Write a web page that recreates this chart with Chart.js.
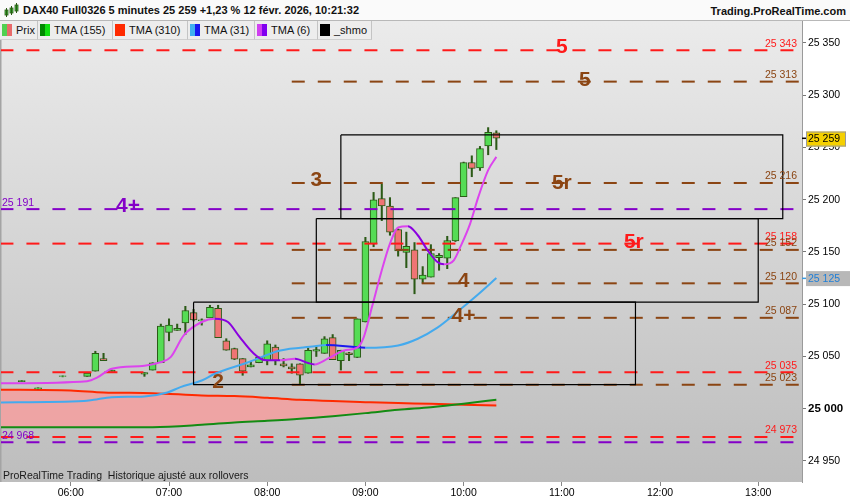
<!DOCTYPE html>
<html>
<head>
<meta charset="utf-8">
<script src="https://cdn.jsdelivr.net/npm/chart.js@4.4.1/dist/chart.umd.min.js"></script>
<style>
  body { margin: 0; width: 850px; height: 500px; overflow: hidden; background: #fff;
         font-family: "Liberation Sans", Arial, sans-serif; position: relative; }
  #top { position: absolute; left: 0; top: 0; width: 850px; height: 20px; background: #fafafa;
         border-bottom: 1px solid #b8b8b8; }
  #title { position: absolute; left: 23px; top: 4px; font-weight: bold; font-size: 11px; color: #111; }
  #site { position: absolute; right: 4px; top: 5px; font-weight: bold; font-size: 11px; color: #111; }
  #icon { position: absolute; left: 4px; top: 3px; }
  #legend { position: absolute; left: 0; top: 21px; height: 19px; display: flex; z-index: 2; }
  .item { display: flex; align-items: center; box-sizing: border-box; height: 19px; padding-left: 2px;
          background: #ededed; border-right: 1px solid #c4c4c4; border-bottom: 1px solid #d0d0d0;
          font-size: 11px; color: #111; }
  .sw { display: inline-block; width: 5px; height: 12px; }
  .item span.t { margin-left: 4px; }
  #wrap { position: absolute; left: 0; top: 21px; width: 850px; height: 479px; }
</style>
</head>
<body>
<div id="top">
  <svg id="icon" width="16" height="15">
    <rect x="1" y="7" width="3" height="5" fill="#40c040" stroke="#2a5a14" stroke-width="0.8"/>
    <line x1="2.5" y1="5" x2="2.5" y2="14" stroke="#2a5a14"/>
    <rect x="6" y="5" width="3" height="5" fill="#40c040" stroke="#2a5a14" stroke-width="0.8"/>
    <line x1="7.5" y1="3" x2="7.5" y2="12" stroke="#2a5a14"/>
    <rect x="11" y="2" width="3" height="6" fill="#40c040" stroke="#2a5a14" stroke-width="0.8"/>
    <line x1="12.5" y1="0" x2="12.5" y2="10" stroke="#2a5a14"/>
  </svg>
  <div id="title">DAX40 Full0326 5 minutes 25 259 +1,23 % 12 févr. 2026, 10:21:32</div>
  <div id="site">Trading.ProRealTime.com</div>
</div>
<div id="legend">
  <div class="item" style="width:38px"><i class="sw" style="background:#50d050"></i><i class="sw" style="background:#e86a6a"></i><span class="t">Prix</span></div>
  <div class="item" style="width:75px"><i class="sw" style="background:#008800"></i><i class="sw" style="background:#10e010"></i><span class="t">TMA (155)</span></div>
  <div class="item" style="width:75px"><i class="sw" style="background:#ff2a00"></i><i class="sw" style="background:#ff2a00"></i><span class="t">TMA (310)</span></div>
  <div class="item" style="width:67px"><i class="sw" style="background:#40b0f0"></i><i class="sw" style="background:#1818f0"></i><span class="t">TMA (31)</span></div>
  <div class="item" style="width:63px"><i class="sw" style="background:#d040f0"></i><i class="sw" style="background:#8000f0"></i><span class="t">TMA (6)</span></div>
  <div class="item" style="width:54px"><i class="sw" style="background:#000"></i><i class="sw" style="background:#000"></i><span class="t">_shmo</span></div>
</div>
<div id="wrap"><canvas id="chart" width="850" height="479"></canvas></div>

<script>
// 5-minute candles
const candleTimes = ["05:30","05:40","05:55","06:10","06:15","06:20","06:25","06:45","06:50","06:55",
  "07:00","07:05","07:10","07:15","07:20","07:25","07:30","07:35","07:40","07:45","07:50","07:55",
  "08:00","08:05","08:10","08:15","08:20","08:25","08:30","08:35","08:40","08:45","08:50","08:55",
  "09:00","09:05","09:10","09:15","09:20","09:25","09:30","09:35","09:40","09:45","09:50","09:55",
  "10:00","10:05","10:10","10:15","10:20"];
const opens = [25026,25019,25031,25031,25036,25048,25035,25033,25037,25044,
  25073,25075,25082,25092,25084,25087,25096,25065,25057.5,25048,25040,25044,
  25046,25059,25043,25040,25043,25034,25055,25053,25068,25046,25053.6,25049,
  25083,25158,25201,25194,25171.5,25149.5,25152,25124,25126,25144.6,25144,25160.5,
  25203,25235.6,25230.5,25251.5,25264];
const highs = [25027,25020,25031.5,25034,25055,25053,25037,25034.5,25044,25081,
  25086,25081,25098,25095,25086,25099,25099,25067,25058,25048,25045,25049.5,
  25065,25061,25048,25043,25043,25058,25059,25069,25071,25056,25054,25086,
  25164,25207,25215,25202,25172,25169,25159,25136,25157,25148.5,25165,25202,
  25236,25242,25251,25269,25266];
const lows = [25026,25019,25030.5,25031,25036,25046,25035,25031,25037,25044,
  25065,25075,25071,25084,25080,25087,25068,25056,25047,25032,25040,25044,
  25042,25042,25040,25034,25023,25034,25050,25053,25047,25037,25046,25049,
  25083,25155,25180,25166,25146,25135,25110,25120,25126,25132.5,25134,25160,
  25203,25222,25228,25243,25248];
const closes = [25027,25020,25031.5,25034,25053,25046,25037,25034.5,25044,25079,
  25080,25077,25094,25085,25085,25097,25068,25056,25047.5,25036,25042,25049.5,
  25062,25046,25041,25038,25032,25056,25056.5,25067,25047,25056,25051.7,25086,
  25160,25200,25194,25169,25151,25155.5,25124,25128,25148.5,25146.8,25161,25202,
  25235.6,25230,25249,25264.4,25259];

// moving averages
const tma6Times = ["05:15","06:10","06:16","06:25","06:45","06:55","07:01","07:09","07:20","07:28",
  "07:36","07:43","07:51","07:58","08:08","08:17","08:25","08:29","08:37","08:47","08:55","08:59",
  "09:04","09:10","09:15","09:20","09:26","09:32","09:38","09:44","09:48","09:54","09:58","10:04",
  "10:09","10:15","10:20"];
const tma6Values = [25024.3,25026.4,25029.7,25038.3,25041.2,25044.6,25049.4,25070.2,25083,25086.2,
  25083,25069,25054,25046.7,25046.3,25047.9,25043.7,25042.4,25047.9,25055.8,25058.4,25068.6,
  25097.3,25132.5,25158,25173.4,25174.6,25166,25151.6,25140.4,25138.2,25142,25154.8,25177.2,
  25202.7,25228.3,25241];
const tma31Times = ["05:15","06:08","06:14","06:25","06:45","06:59","07:07","07:20","07:28","07:48",
  "08:08","08:29","08:36","09:00","09:20","09:32","09:44","09:56","10:07","10:20"];
const tma31Values = [25006,25007.3,25008.6,25011.1,25011.8,25015.6,25020.7,25027,25033.5,25044.3,
  25055.8,25059.7,25061,25058.4,25060.6,25067,25077.6,25092.5,25106.9,25125];
const slowTimes = ["05:15","06:00","06:20","06:50","07:20","07:40","08:00","08:20","08:40","09:00",
  "09:20","09:40","10:00","10:20"];
const tma155Values = [24982.4,24982.4,24982.4,24982.4,24984.6,24986.9,24988.5,24990.4,24992.9,24995.8,
  24999,25001.5,25004.8,25008.6];
const tma310Values = [25018.3,25017.5,25015.6,25014.9,25012.7,25012.1,25010.5,25008.6,25007.3,25006.3,
  25005.4,25004.8,25003.8,25003.2];

// horizontal levels
const levelValues = [25343,25313,25216,25191,25158,25152,25120,25087,25035,25023,24973,24968];
const levelKinds = ["red","brown","brown","purple","red","brown","brown","brown","red","brown","red","purple"];
const levelFrom = ["05:17","08:15","08:15","05:17","05:17","08:15","08:15","08:15","05:17","08:15","05:17","05:17"];

// boxes
const rectFrom = ["07:15","08:30","08:45"];
const rectTo = ["11:45","13:00","13:15"];
const rectTop = [25102,25182,25262];
const rectBottom = [25023,25102,25182];

// wave counts
const waveTexts = ["4+","2","3","4","4+","5r","5","5","5r"];
const waveTimes = ["06:35","07:30","08:30","10:00","10:00","11:00","11:14","11:00","11:44"];
const waveValues = [25194,25025.5,25219,25122,25089,25216,25314,25346.4,25159.2];
const waveKinds = ["purple","brown","brown","brown","brown","brown","brown","red","red"];

const hourLabels = ["06:00","07:00","08:00","09:00","10:00","11:00","12:00","13:00"];
const yTickValues = [24950,25000,25050,25100,25150,25200,25250,25300,25350];
const lastPrice = 25259;
const lastTma31 = 25125;

const kindColor = { red: "#ff1a1a", brown: "#8b4513", purple: "#8400c8" };
const FONT = '"Liberation Sans", Arial, sans-serif';

function toMin(t) { const p = t.split(":"); return +p[0] * 60 + +p[1]; }
function fmt(v) { const s = String(Math.round(v)); return s.slice(0, s.length - 3) + " " + s.slice(-3); }
function pts(times, vals) { return times.map((t, i) => ({ x: toMin(t), y: vals[i] })); }

const xMin = 317.35, xMax = 806.75;
const yMin = 24929.9, yMax = 25371.0;

function zeroPad(s) { s.paddingLeft = 0; s.paddingRight = 0; s.paddingTop = 0; s.paddingBottom = 0; }

const datasets = [];
datasets.push({
  type: "line", data: pts(slowTimes, tma310Values), borderColor: "#ff2a00", borderWidth: 2,
  pointRadius: 0, cubicInterpolationMode: "monotone",
  fill: { target: 1, above: "#eea4a4", below: "#eea4a4" }, order: 10
});
datasets.push({
  type: "line", data: pts(slowTimes, tma155Values), borderColor: "#138c13", borderWidth: 2,
  pointRadius: 0, cubicInterpolationMode: "monotone", fill: false, order: 9
});
datasets.push({
  type: "bar", data: candleTimes.map((t, i) => ({ x: toMin(t), y: [lows[i], highs[i]] })),
  backgroundColor: "#2b5a16", borderWidth: 0, barThickness: 1.4, grouped: false, order: 8
});
datasets.push({
  type: "bar", data: candleTimes.map((t, i) => ({ x: toMin(t), y: [opens[i], closes[i]] })),
  backgroundColor: closes.map((c, i) => c >= opens[i] ? "#55dc55" : "#ef7474"),
  borderColor: "#2b5a16", borderWidth: 1, borderSkipped: false, barThickness: 7,
  grouped: false, order: 7
});
levelValues.forEach((v, i) => {
  datasets.push({
    type: "line", data: [{ x: toMin(levelFrom[i]), y: v }, { x: xMax, y: v }],
    borderColor: kindColor[levelKinds[i]], borderWidth: 2, borderDash: [13, 13],
    pointRadius: 0, fill: false, order: 6
  });
});
datasets.push({
  type: "line", data: pts(tma31Times, tma31Values), borderWidth: 2, pointRadius: 0,
  cubicInterpolationMode: "monotone", fill: false, borderColor: "#44aaee",
  segment: { borderColor: c => c.p1.parsed.y < c.p0.parsed.y ? "#1a1aee" : "#44aaee" }, order: 5
});
datasets.push({
  type: "line", data: pts(tma6Times, tma6Values), borderWidth: 2, pointRadius: 0,
  cubicInterpolationMode: "monotone", fill: false, borderColor: "#dc44ee",
  segment: { borderColor: c => c.p1.parsed.y < c.p0.parsed.y ? "#8a00e0" : "#dc44ee" }, order: 4
});
rectFrom.forEach((f, i) => {
  const a = toMin(f), b = toMin(rectTo[i]);
  datasets.push({
    type: "line",
    data: [{ x: a, y: rectTop[i] }, { x: b, y: rectTop[i] }, { x: b, y: rectBottom[i] },
           { x: a, y: rectBottom[i] }, { x: a, y: rectTop[i] }],
    borderColor: "#000", borderWidth: 1.2, pointRadius: 0, fill: false, tension: 0, order: 3
  });
});

const decor = {
  id: "decor",
  beforeDraw(chart) {
    const { ctx, chartArea: a } = chart;
    ctx.save();
    ctx.fillStyle = "#fff";
    ctx.fillRect(0, 0, chart.width, chart.height);
    const g = ctx.createLinearGradient(0, a.top, 0, a.bottom);
    g.addColorStop(0, "#ebebeb");
    g.addColorStop(1, "#bdbdbd");
    ctx.fillStyle = g;
    ctx.fillRect(a.left, a.top, a.right - a.left, a.bottom - a.top);
    ctx.fillStyle = "#a4a4a4";
    ctx.fillRect(0, a.top, 1.5, a.bottom - a.top);
    ctx.restore();
  },
  afterDraw(chart) {
    const { ctx, chartArea: a } = chart;
    const xs = chart.scales.x, ys = chart.scales.y;
    ctx.save();
    // level values
    ctx.font = "10.5px " + FONT;
    ctx.textBaseline = "alphabetic";
    levelValues.forEach((v, i) => {
      const y = ys.getPixelForValue(v) - 3.5;
      ctx.fillStyle = kindColor[levelKinds[i]];
      if (levelKinds[i] === "purple") {
        ctx.textAlign = "left";
        ctx.fillText(fmt(v), a.left + 1, y);
      } else {
        ctx.textAlign = "right";
        ctx.fillText(fmt(v), a.right - 5, y);
      }
    });
    // wave counts
    ctx.font = "bold 21px " + FONT;
    ctx.textAlign = "center";
    ctx.textBaseline = "middle";
    waveTexts.forEach((t, i) => {
      ctx.fillStyle = kindColor[waveKinds[i]];
      ctx.fillText(t, xs.getPixelForValue(toMin(waveTimes[i])), ys.getPixelForValue(waveValues[i]));
    });
    // caption
    ctx.font = "10.5px " + FONT;
    ctx.textAlign = "left";
    ctx.textBaseline = "alphabetic";
    ctx.fillStyle = "#1a1a1a";
    ctx.fillText("ProRealTime Trading  Historique ajusté aux rollovers", a.left + 2, a.bottom - 3);
    // last price tag
    let y = ys.getPixelForValue(lastPrice);
    ctx.fillStyle = "#000";
    ctx.fillRect(a.right, y - 0.5, 5, 1.5);
    ctx.fillStyle = "#f5d000";
    ctx.fillRect(a.right + 4, y - 6.5, 40, 15);
    ctx.strokeStyle = "#9a9a9a";
    ctx.lineWidth = 1;
    ctx.strokeRect(a.right + 4.5, y - 6, 39, 14);
    ctx.fillStyle = "#000";
    ctx.font = "10.5px " + FONT;
    ctx.textBaseline = "middle";
    ctx.fillText(fmt(lastPrice), a.right + 6, y + 1.5);
    // TMA 31 tag
    y = ys.getPixelForValue(lastTma31);
    ctx.fillStyle = "#3a9ae0";
    ctx.fillRect(a.right, y - 0.5, 5, 1.5);
    ctx.fillStyle = "#b8b8b8";
    ctx.fillRect(a.right + 4, y - 7, 44, 15);
    ctx.fillStyle = "#1e7fd8";
    ctx.fillText(fmt(lastTma31), a.right + 6, y + 1);
    ctx.restore();
  }
};

new Chart(document.getElementById("chart"), {
  type: "bar",
  data: { datasets: datasets },
  options: {
    responsive: false,
    animation: false,
    events: [],
    layout: { padding: { left: 1, right: 0, top: 0, bottom: 0 } },
    plugins: { legend: { display: false }, tooltip: { enabled: false } },
    scales: {
      x: {
        type: "linear", min: xMin, max: xMax, offset: false,
        afterBuildTicks: s => { s.ticks = hourLabels.map(h => ({ value: toMin(h) })); },
        afterFit: s => { s.height = 18; zeroPad(s); },
        ticks: { callback: (v, i) => hourLabels[i], color: "#000", padding: 1,
                 autoSkip: false, maxRotation: 0, font: { family: FONT, size: 10.5 } },
        grid: { drawOnChartArea: false, tickLength: 4, color: "#888", offset: false },
        border: { display: false }
      },
      y: {
        position: "right", min: yMin, max: yMax,
        afterBuildTicks: s => { s.ticks = yTickValues.map(v => ({ value: v })); },
        afterFit: s => { s.width = 48; zeroPad(s); },
        ticks: {
          callback: v => fmt(v), color: "#000", padding: 2,
          font: c => (c.tick && c.tick.value === 25000)
            ? { family: FONT, size: 11.5, weight: "bold" }
            : { family: FONT, size: 10.5 }
        },
        grid: { drawOnChartArea: false, tickLength: 4, color: "#777" },
        border: { color: "#9a9a9a" }
      }
    }
  },
  plugins: [decor]
});
</script>
</body>
</html>
